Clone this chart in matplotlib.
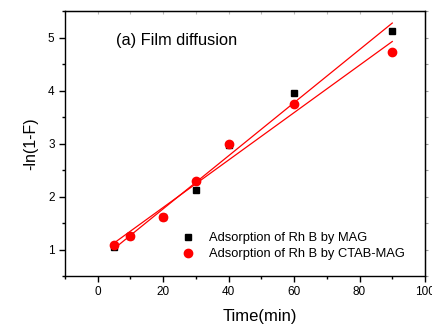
import numpy as np
import matplotlib
matplotlib.use("Agg")
import matplotlib.pyplot as plt
from matplotlib.ticker import MultipleLocator

plt.rcParams["font.family"] = ["Liberation Sans", "DejaVu Sans"]

# datos
t = [5, 10, 20, 30, 40, 60, 90]
mag = [1.05, 1.26, 1.62, 2.13, 2.98, 3.96, 5.13]
ctab = [1.08, 1.26, 1.62, 2.29, 2.99, 3.74, 4.72]
lbl_mag = "Adsorption of Rh B by MAG"
lbl_ctab = "Adsorption of Rh B by CTAB-MAG"

fig = plt.figure(figsize=(4.32, 3.30), dpi=100)
ax = fig.add_axes([65/432, 1-276/330, 360/432, 265/330])

# ajustes lineales
tt = np.array([t[0], t[-1]], dtype=float)
for y in (mag, ctab):
    k, b = np.polyfit(t, y, 1)
    ax.plot(tt, k*tt+b, color="red", lw=0.9, zorder=2)

ax.plot(t, mag, "s", color="black", ms=5, zorder=3, label=lbl_mag)
ax.plot(t, ctab, "o", color="red", ms=6, zorder=4, label=lbl_ctab)

ax.set_xlim(-10, 100)
ax.set_ylim(0.5, 5.5)
ax.xaxis.set_major_locator(MultipleLocator(20))
ax.xaxis.set_minor_locator(MultipleLocator(10))
ax.yaxis.set_major_locator(MultipleLocator(1))
ax.yaxis.set_minor_locator(MultipleLocator(0.5))
ax.tick_params(which="both", direction="out", labelsize=8.5, width=1)
ax.tick_params(which="major", length=4)
ax.tick_params(which="minor", length=2.5)
for s in ax.spines.values():
    s.set_linewidth(1)

# ticks tenues arriba y a la derecha
sec_x = ax.secondary_xaxis("top")
sec_x.xaxis.set_major_locator(MultipleLocator(10))
sec_x.tick_params(direction="in", length=2, color="#bbbbbb", labeltop=False)
sec_y = ax.secondary_yaxis("right")
sec_y.yaxis.set_major_locator(MultipleLocator(0.5))
sec_y.tick_params(direction="out", length=2, color="#999999", labelright=False)

ax.set_ylabel("-ln(1-F)", fontsize=11.5)
ax.set_xlabel("Time(min)", fontsize=12)
ax.xaxis.set_label_coords((260-65)/360, -0.125)
ax.yaxis.set_label_coords(-0.075, 0.5)

ax.text(0.143, 0.89, "(a) Film diffusion", transform=ax.transAxes, fontsize=11.8,
        va="center", ha="left")

ax.legend(loc="lower right", bbox_to_anchor=(0.975, 0.015), frameon=False,
          fontsize=9.3, handletextpad=0.95, labelspacing=0.33, handlelength=1.2)

fig.savefig("out.png", dpi=100)
